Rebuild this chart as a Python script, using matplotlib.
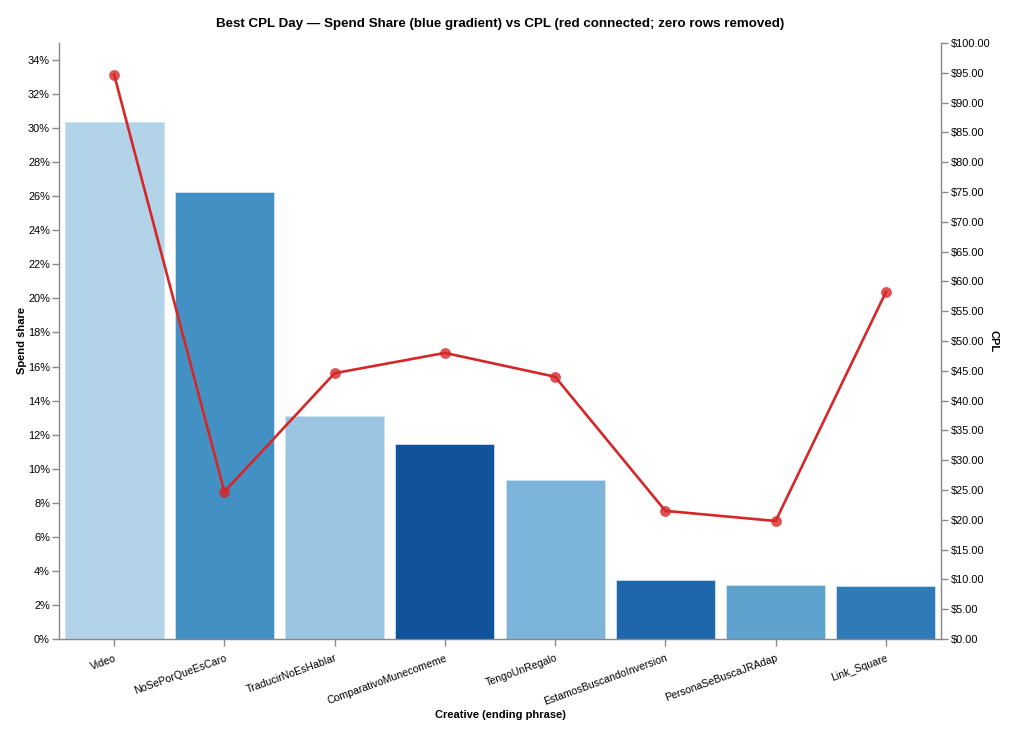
import matplotlib
matplotlib.use("Agg")
import matplotlib.pyplot as plt
from matplotlib.ticker import FuncFormatter, MultipleLocator

creatives = ["Video", "NoSePorQueEsCaro", "TraducirNoEsHablar", "ComparativoMunecomeme",
             "TengoUnRegalo", "EstamosBuscandoInversion", "PersonaSeBuscaJRAdap", "Link_Square"]
spend_share = [0.3036, 0.2625, 0.1310, 0.1145, 0.0934, 0.0345, 0.0315, 0.0310]
cpl = [94.7, 24.7, 44.6, 48.0, 44.0, 21.5, 19.8, 58.2]
bar_colors = ["#b3d3e8", "#4390c4", "#99c5e0", "#10539a", "#7bb4d8", "#1f67ab", "#5da1cd", "#2f7bb7"]

plt.rcParams['font.family'] = ['Liberation Sans', 'DejaVu Sans']

fig = plt.figure(figsize=(10.18, 7.37), dpi=100)
ax = fig.add_axes([59/1018, 98/737, 882/1018, 596/737])
ax2 = ax.twinx()

x = list(range(len(creatives)))
ax.bar(x, spend_share, width=0.9, color=bar_colors, edgecolor="#cfe3f1", linewidth=0.6, zorder=2)
ax.set_xlim(-0.5, len(creatives) - 0.5)
ax.set_ylim(0, 0.35)
ax.yaxis.set_major_locator(MultipleLocator(0.02))
ax.yaxis.set_major_formatter(FuncFormatter(lambda v, p: f"{v*100:.0f}%"))

ax2.plot(x, cpl, color="#d62728", linewidth=1.9, zorder=3)
ax2.plot(x, cpl, linestyle="none", marker="o", markersize=7.8, color="#d62728",
         alpha=0.8, markeredgewidth=0, zorder=4)
ax2.set_ylim(0, 100)
ax2.yaxis.set_major_locator(MultipleLocator(5))
ax2.yaxis.set_major_formatter(FuncFormatter(lambda v, p: f"${v:.2f}"))

axis_col = "#888888"
for a in (ax, ax2):
    a.spines['top'].set_visible(False)
    for s in a.spines.values():
        s.set_color(axis_col)
        s.set_linewidth(1.0)
    a.tick_params(colors=axis_col, labelcolor="#000000", length=5, width=1, labelsize=7.9)
ax.spines['right'].set_visible(False)
ax2.spines['left'].set_visible(False)
ax2.spines['bottom'].set_visible(False)

ax.set_xticks(x)
ax.set_xticklabels(creatives, rotation=20, ha='right', va='top', rotation_mode='anchor', fontsize=7.6)
ax.tick_params(axis='x', pad=5)
ax.tick_params(axis='y', pad=1.5)
ax2.tick_params(axis='y', pad=2)

ax.set_ylabel("Spend share", fontsize=8, fontweight='bold')
ax.yaxis.set_label_coords(-0.036, 0.5)
ax2.set_ylabel("CPL", fontsize=8, fontweight='bold', rotation=-90, va='center')
ax2.yaxis.set_label_coords(1.060, 0.5)
ax.set_xlabel("Creative (ending phrase)", fontsize=8, fontweight='bold')
ax.xaxis.set_label_coords(0.5, -0.119)

fig.text(0.4912, 1 - 24/737, "Best CPL Day \u2014 Spend Share (blue gradient) vs CPL (red connected; zero rows removed)",
         ha='center', va='center', fontsize=9.6, fontweight='bold')

fig.savefig("out.png", dpi=100, facecolor="white")
